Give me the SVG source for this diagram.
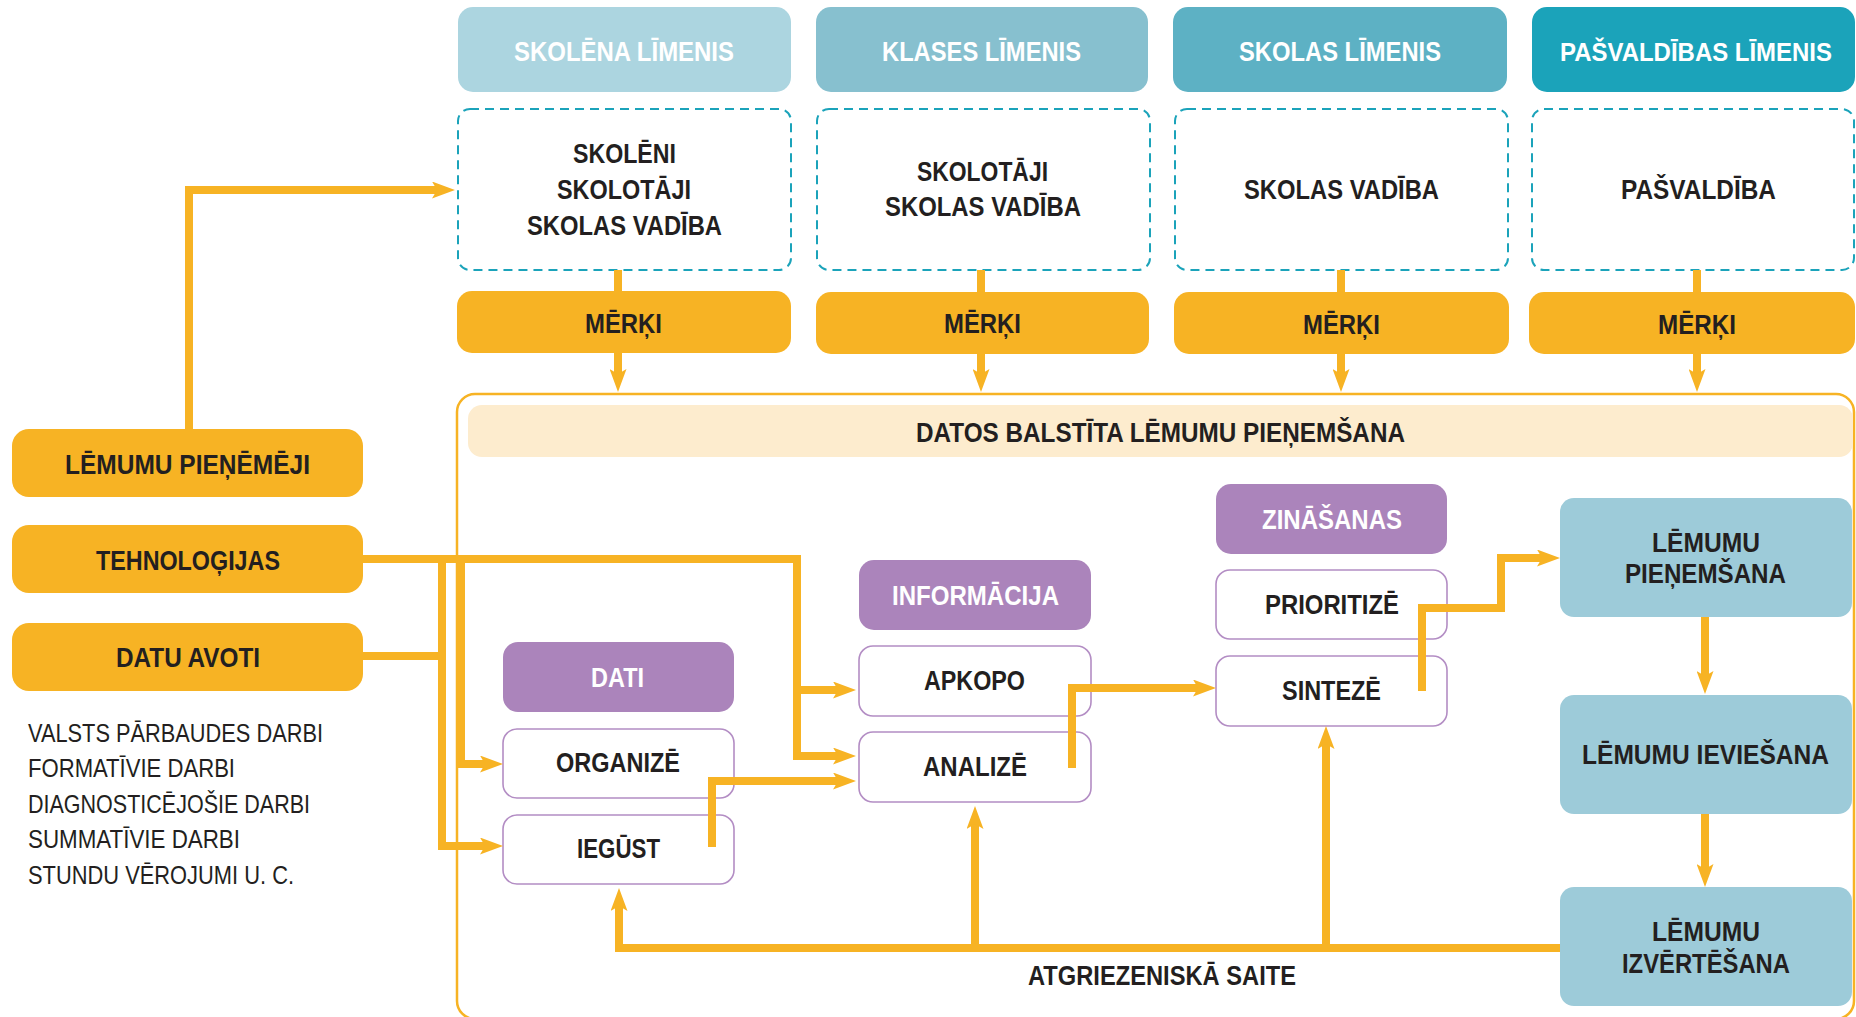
<svg xmlns="http://www.w3.org/2000/svg" width="1856" height="1017" viewBox="0 0 1856 1017">
<defs>
<style>
.t{font-family:"Liberation Sans",Arial,sans-serif;font-weight:bold;font-size:27px;fill:#231f20}
.w{fill:#ffffff}
.big{font-size:28px}
.sm{font-size:25px}
.reg{font-family:"Liberation Sans",Arial,sans-serif;font-weight:normal;font-size:25px;fill:#231f20}
.dash{fill:#ffffff;stroke:#1ba3ba;stroke-width:2;stroke-dasharray:9 6}
.org{fill:#f7b324}
.pur{fill:#ab84bb}
.wb{fill:#ffffff;stroke:#b38dc4;stroke-width:1.6}
.dec{fill:#9dcbd9}
.conn path{fill:none;stroke:#f7b324;stroke-width:8;stroke-linejoin:miter;stroke-linecap:butt}
.arr{marker-end:url(#arr)}
</style>
<marker id="arr" viewBox="0 0 23 17" markerWidth="23" markerHeight="17" refX="5" refY="8.5" orient="auto" markerUnits="userSpaceOnUse">
<path d="M0,0 L23,8.5 L0,17 L5,8.5 Z" fill="#f7b324"/>
</marker>
</defs>
<rect width="1856" height="1017" fill="#ffffff"/>

<g id="container">
<rect x="457" y="394" width="1397" height="625" rx="18" fill="none" stroke="#f7b324" stroke-width="2.5"/>
</g>
<g id="banner">
<rect x="468" y="405" width="1385" height="52" rx="14" fill="#fdecce"/>
<text class="t" x="916" y="442" textLength="489" lengthAdjust="spacingAndGlyphs">DATOS BALSTĪTA LĒMUMU PIEŅEMŠANA</text>
</g>

<g id="hdr1"><rect x="458" y="7" width="333" height="85" rx="15" fill="#acd5e0"/><text class="t w" x="514" y="61" textLength="220" lengthAdjust="spacingAndGlyphs">SKOLĒNA LĪMENIS</text></g>
<g id="hdr2"><rect x="816" y="7" width="332" height="85" rx="15" fill="#87c0cf"/><text class="t w" x="882" y="61" textLength="199" lengthAdjust="spacingAndGlyphs">KLASES LĪMENIS</text></g>
<g id="hdr3"><rect x="1173" y="7" width="334" height="85" rx="15" fill="#5db1c4"/><text class="t w" x="1239" y="61" textLength="202" lengthAdjust="spacingAndGlyphs">SKOLAS LĪMENIS</text></g>
<g id="hdr4"><rect x="1532" y="7" width="323" height="85" rx="15" fill="#1ba3ba"/><text class="t w sm" x="1560" y="61" textLength="272" lengthAdjust="spacingAndGlyphs">PAŠVALDĪBAS LĪMENIS</text></g>

<g id="who1"><rect class="dash" x="458" y="109" width="333" height="161" rx="12"/>
<text class="t" x="573" y="163" textLength="103" lengthAdjust="spacingAndGlyphs">SKOLĒNI</text>
<text class="t" x="557" y="199" textLength="134" lengthAdjust="spacingAndGlyphs">SKOLOTĀJI</text>
<text class="t" x="527" y="235" textLength="195" lengthAdjust="spacingAndGlyphs">SKOLAS VADĪBA</text></g>
<g id="who2"><rect class="dash" x="817" y="109" width="333" height="161" rx="12"/>
<text class="t" x="917" y="181" textLength="131" lengthAdjust="spacingAndGlyphs">SKOLOTĀJI</text>
<text class="t" x="885" y="216" textLength="196" lengthAdjust="spacingAndGlyphs">SKOLAS VADĪBA</text></g>
<g id="who3"><rect class="dash" x="1175" y="109" width="333" height="161" rx="12"/>
<text class="t" x="1244" y="199" textLength="195" lengthAdjust="spacingAndGlyphs">SKOLAS VADĪBA</text></g>
<g id="who4"><rect class="dash" x="1532" y="109" width="322" height="161" rx="12"/>
<text class="t" x="1621" y="199" textLength="155" lengthAdjust="spacingAndGlyphs">PAŠVALDĪBA</text></g>

<g id="goal1"><rect class="org" x="457" y="291" width="334" height="62" rx="15"/><text class="t" x="585" y="333" textLength="77" lengthAdjust="spacingAndGlyphs">MĒRĶI</text></g>
<g id="goal2"><rect class="org" x="816" y="292" width="333" height="62" rx="15"/><text class="t" x="944" y="333" textLength="77" lengthAdjust="spacingAndGlyphs">MĒRĶI</text></g>
<g id="goal3"><rect class="org" x="1174" y="292" width="335" height="62" rx="15"/><text class="t" x="1303" y="334" textLength="77" lengthAdjust="spacingAndGlyphs">MĒRĶI</text></g>
<g id="goal4"><rect class="org" x="1529" y="292" width="326" height="62" rx="15"/><text class="t" x="1658" y="334" textLength="78" lengthAdjust="spacingAndGlyphs">MĒRĶI</text></g>

<g id="decisionmakers"><rect class="org" x="12" y="429" width="351" height="68" rx="17"/><text class="t big" x="65" y="474" textLength="245" lengthAdjust="spacingAndGlyphs">LĒMUMU PIEŅĒMĒJI</text></g>
<g id="technologies"><rect class="org" x="12" y="525" width="351" height="68" rx="17"/><text class="t big" x="96" y="570" textLength="184" lengthAdjust="spacingAndGlyphs">TEHNOLOĢIJAS</text></g>
<g id="datasources"><rect class="org" x="12" y="623" width="351" height="68" rx="17"/><text class="t big" x="116" y="667" textLength="144" lengthAdjust="spacingAndGlyphs">DATU AVOTI</text></g>

<g id="sourcelist">
<text class="reg" x="28" y="742" textLength="295" lengthAdjust="spacingAndGlyphs">VALSTS PĀRBAUDES DARBI</text>
<text class="reg" x="28" y="777" textLength="207" lengthAdjust="spacingAndGlyphs">FORMATĪVIE DARBI</text>
<text class="reg" x="28" y="813" textLength="282" lengthAdjust="spacingAndGlyphs">DIAGNOSTICĒJOŠIE DARBI</text>
<text class="reg" x="28" y="848" textLength="212" lengthAdjust="spacingAndGlyphs">SUMMATĪVIE DARBI</text>
<text class="reg" x="28" y="884" textLength="266" lengthAdjust="spacingAndGlyphs">STUNDU VĒROJUMI U. C.</text>
</g>

<g id="dati"><rect class="pur" x="503" y="642" width="231" height="70" rx="15"/><text class="t w" x="591" y="687" textLength="53" lengthAdjust="spacingAndGlyphs">DATI</text></g>
<g id="organize"><rect class="wb" x="503" y="729" width="231" height="69" rx="14"/><text class="t" x="556" y="772" textLength="124" lengthAdjust="spacingAndGlyphs">ORGANIZĒ</text></g>
<g id="iegust"><rect class="wb" x="503" y="815" width="231" height="69" rx="14"/><text class="t" x="577" y="858" textLength="83" lengthAdjust="spacingAndGlyphs">IEGŪST</text></g>

<g id="informacija"><rect class="pur" x="859" y="560" width="232" height="70" rx="15"/><text class="t w" x="892" y="605" textLength="167" lengthAdjust="spacingAndGlyphs">INFORMĀCIJA</text></g>
<g id="apkopo"><rect class="wb" x="859" y="646" width="232" height="70" rx="14"/><text class="t" x="924" y="690" textLength="101" lengthAdjust="spacingAndGlyphs">APKOPO</text></g>
<g id="analize"><rect class="wb" x="859" y="732" width="232" height="70" rx="14"/><text class="t" x="923" y="776" textLength="104" lengthAdjust="spacingAndGlyphs">ANALIZĒ</text></g>

<g id="zinasanas"><rect class="pur" x="1216" y="484" width="231" height="70" rx="15"/><text class="t w" x="1262" y="529" textLength="140" lengthAdjust="spacingAndGlyphs">ZINĀŠANAS</text></g>
<g id="prioritize"><rect class="wb" x="1216" y="570" width="231" height="69" rx="14"/><text class="t" x="1265" y="614" textLength="134" lengthAdjust="spacingAndGlyphs">PRIORITIZĒ</text></g>
<g id="sinteze"><rect class="wb" x="1216" y="656" width="231" height="70" rx="14"/><text class="t" x="1282" y="700" textLength="99" lengthAdjust="spacingAndGlyphs">SINTEZĒ</text></g>

<g id="decision"><rect class="dec" x="1560" y="498" width="292" height="119" rx="14"/>
<text class="t" x="1652" y="552" textLength="108" lengthAdjust="spacingAndGlyphs">LĒMUMU</text>
<text class="t" x="1625" y="583" textLength="161" lengthAdjust="spacingAndGlyphs">PIEŅEMŠANA</text></g>
<g id="implementation"><rect class="dec" x="1560" y="695" width="292" height="119" rx="14"/>
<text class="t" x="1582" y="764" textLength="247" lengthAdjust="spacingAndGlyphs">LĒMUMU IEVIEŠANA</text></g>
<g id="evaluation"><rect class="dec" x="1560" y="887" width="292" height="119" rx="14"/>
<text class="t" x="1652" y="941" textLength="108" lengthAdjust="spacingAndGlyphs">LĒMUMU</text>
<text class="t" x="1622" y="973" textLength="168" lengthAdjust="spacingAndGlyphs">IZVĒRTĒŠANA</text></g>

<g id="connectors" class="conn">
<path class="arr" d="M189,429 V190 H437"/>
<path d="M618,270 V291"/>
<path d="M981,270 V292"/>
<path d="M1341,270 V292"/>
<path d="M1697,270 V292"/>
<path class="arr" d="M618,353 V374"/>
<path class="arr" d="M981,354 V374"/>
<path class="arr" d="M1341,354 V374"/>
<path class="arr" d="M1697,354 V374"/>
<path class="arr" d="M363,559 H797 V756 H838"/>
<path class="arr" d="M797,690 H838"/>
<path class="arr" d="M442,559 V846 H485"/>
<path class="arr" d="M461,559 V764 H485"/>
<path d="M363,656 H446"/>
<path class="arr" d="M712,847 V781 H838"/>
<path class="arr" d="M1072,768 V688 H1198"/>
<path class="arr" d="M1422,691 V608 H1501 V558 H1542"/>
<path class="arr" d="M1705,617 V676"/>
<path class="arr" d="M1705,814 V869"/>
<path class="arr" d="M1560,948 H619 V906"/>
<path class="arr" d="M975,948 V824"/>
<path class="arr" d="M1326,948 V744"/>
</g>
<g id="feedbacklabel">
<text class="t" x="1028" y="985" textLength="268" lengthAdjust="spacingAndGlyphs">ATGRIEZENISKĀ SAITE</text>
</g>
</svg>
